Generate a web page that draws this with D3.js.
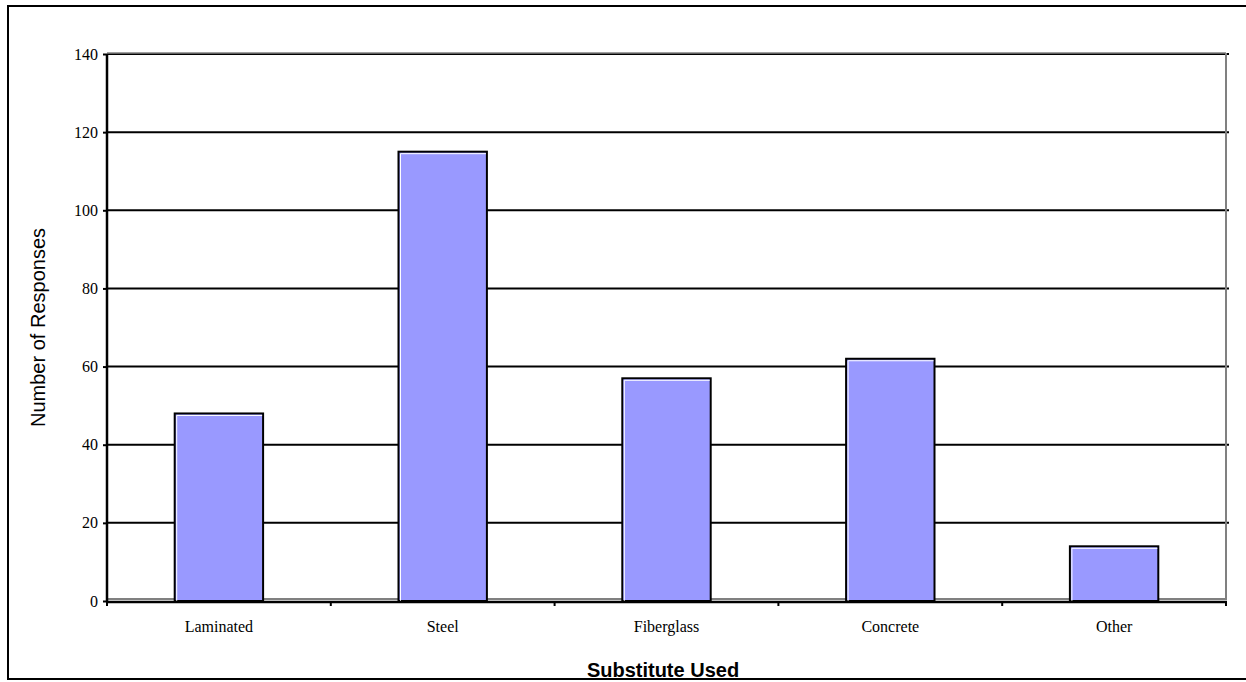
<!DOCTYPE html>
<html><head><meta charset="utf-8">
<script src="https://cdn.jsdelivr.net/npm/d3@7"></script>
<style>body{margin:0;background:#fff}svg{display:block}</style>
</head><body>
<svg id="c" width="1246" height="682"></svg>
<script>
const categories = ["Laminated", "Steel", "Fiberglass", "Concrete", "Other"];
const responses = [48, 115, 57, 62, 14];
const yTicks = [0, 20, 40, 60, 80, 100, 120, 140];
const yTitle = "Number of Responses";
const xTitle = "Substitute Used";

const svg = d3.select("#c");
const L = 107, R = 1226, T = 54, B = 601;
const x = d3.scaleBand().domain(categories).range([L, R]).paddingInner(0.605).paddingOuter(0.3025);
const xb = d3.scaleBand().domain(categories).range([L, R]);
const y = d3.scaleLinear().domain([0, 140]).range([B, T]);

// outer frame
svg.append("rect").attr("x", 8).attr("y", 6).attr("width", 1250).attr("height", 673)
  .attr("fill", "none").attr("stroke", "#000").attr("stroke-width", 2);

// gridlines
svg.append("g").selectAll("line").data(yTicks.filter(d => d > 0)).join("line")
  .attr("x1", L).attr("x2", R + 3).attr("y1", d => y(d)).attr("y2", d => y(d))
  .attr("stroke", "#000").attr("stroke-width", 2);
// grey plot-area border
svg.append("line").attr("x1", L).attr("x2", R).attr("y1", T - 1).attr("y2", T - 1).attr("stroke", "#808080").attr("stroke-width", 1.5);
svg.append("line").attr("x1", R).attr("x2", R).attr("y1", T - 1).attr("y2", B - 1).attr("stroke", "#808080").attr("stroke-width", 2);
svg.append("line").attr("x1", L).attr("x2", R).attr("y1", B - 2).attr("y2", B - 2).attr("stroke", "#808080").attr("stroke-width", 2);

// bars
const bars = svg.append("g").selectAll("g").data(categories).join("g");
bars.append("rect")
  .attr("x", d => x(d)).attr("y", (d, i) => y(responses[i]))
  .attr("width", x.bandwidth()).attr("height", (d, i) => B - y(responses[i]))
  .attr("fill", "#9999FF").attr("stroke", "#000").attr("stroke-width", 2);
bars.append("path")
  .attr("d", (d, i) => `M${x(d) + 2},${B} V${y(responses[i]) + 2} H${x(d) + x.bandwidth() - 1}`)
  .attr("fill", "none").attr("stroke", "#fff").attr("stroke-width", 1);

// y axis
const yAxis = svg.append("g").attr("transform", `translate(${L},0)`)
  .call(d3.axisLeft(y).tickValues(yTicks).tickSize(4).tickPadding(5));
yAxis.select(".domain").attr("stroke", "#000").attr("stroke-width", 2.5).attr("d", `M0,${T}V${B + 1}`);
yAxis.selectAll(".tick line").attr("stroke", "#000").attr("stroke-width", 2);
yAxis.selectAll("text").attr("font-family", "'Liberation Serif', 'Times New Roman', serif")
  .attr("font-size", 16).attr("fill", "#000");

// x axis
const xAxis = svg.append("g").attr("transform", `translate(0,${B + 1})`)
  .call(d3.axisBottom(xb).tickSize(0).tickPadding(19));
xAxis.select(".domain").attr("stroke", "#000").attr("stroke-width", 2.5).attr("d", `M${L},0H${R + 1}`);
xAxis.selectAll("text").attr("font-family", "'Liberation Serif', 'Times New Roman', serif")
  .attr("font-size", 16).attr("fill", "#000");
xAxis.append("g").selectAll("line").data(d3.range(categories.length + 1)).join("line")
  .attr("x1", i => L + i * xb.step()).attr("x2", i => L + i * xb.step())
  .attr("y1", 0).attr("y2", 4).attr("stroke", "#000").attr("stroke-width", 2);

// titles
svg.append("text").attr("transform", `translate(45,${(T + B) / 2}) rotate(-90)`)
  .attr("text-anchor", "middle").attr("font-family", "'Liberation Sans', Arial, sans-serif")
  .attr("font-size", 20).attr("fill", "#000").text(yTitle);
svg.append("text").attr("x", 663).attr("y", 677)
  .attr("text-anchor", "middle").attr("font-family", "'Liberation Sans', Arial, sans-serif")
  .attr("font-weight", "bold").attr("font-size", 20).attr("fill", "#000").text(xTitle);
</script>
</body></html>
